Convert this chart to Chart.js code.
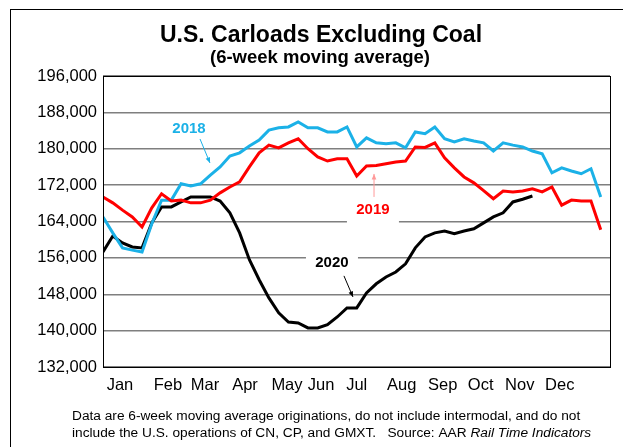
<!DOCTYPE html>
<html>
<head>
<meta charset="utf-8">
<title>U.S. Carloads Excluding Coal</title>
<script src="https://cdn.jsdelivr.net/npm/chart.js@4"></script>
<style>
  html, body { margin: 0; padding: 0; background: #fff; }
  #wrap { width: 623px; height: 447px; position: relative; }
</style>
</head>
<body>
<div id="wrap"><canvas id="carloadsChart"></canvas></div>
<script>
// 주간 데이터 (6주 이동평균, 주 번호 0..51)
const carloads2018 = [
  165000, 161500, 158200, 157700, 157300, 163500, 168700, 168700, 172300, 171800,
  172300, 174200, 176000, 178400, 179100, 180600, 181900, 184100, 184600, 184800,
  185900, 184600, 184600, 183700, 183700, 184800, 180400, 182400, 181300, 181100,
  181300, 180200, 183700, 183300, 184800, 182200, 181500, 182200, 181700, 181300,
  179500, 181300, 180800, 180400, 179500, 178900, 174700, 175800, 175100, 174500,
  175600, 169400
];
const carloads2019 = [
  169400, 168100, 166500, 165000, 162800, 167000, 170100, 168500, 168700, 168100,
  168100, 168700, 170300, 171600, 172700, 176000, 179100, 180800, 180200, 181300,
  182200, 180000, 178200, 177300, 177800, 177800, 174000, 176200, 176300, 176700,
  177100, 177300, 180400, 180300, 181300, 178000, 175800, 173800, 172500, 170800,
  169000, 170700, 170500, 170700, 171200, 170500, 171600, 167600, 168700, 168500,
  168500, 162200
];
const carloads2020 = [
  157300, 160800, 159300, 158400, 158200, 163700, 167200, 167200, 168300, 169400,
  169400, 169400, 168500, 165900, 161500, 155600, 151200, 147200, 143900, 141900,
  141700, 140600, 140600, 141300, 143000, 145000, 145000, 148300, 150300, 151800,
  152900, 154700, 158200, 160600, 161500, 161900, 161300, 161900, 162400, 163700,
  165000, 165900, 168300, 168900, 169600
];

// 월 라벨과 라벨이 놓이는 주 위치
const monthLabels = ['Jan', 'Feb', 'Mar', 'Apr', 'May', 'Jun', 'Jul', 'Aug', 'Sep', 'Oct', 'Nov', 'Dec'];
const monthWeeks = [1.74, 6.66, 10.45, 14.55, 18.85, 22.34, 26.0, 30.6, 34.8, 38.7, 42.7, 46.8];

// y축 눈금
const yMin = 132000;
const yMax = 196000;
const yStep = 8000;

const FONT = '"Liberation Sans", Arial, sans-serif';
const BLUE = '#1BB1E7';
const RED = '#FF0000';

const toPoints = arr => arr.map((v, i) => ({ x: i, y: v }));

// 시리즈 라벨 (데이터 좌표 기준)
const seriesNotes = [
  { text: '2018', color: BLUE, x: 8.81, y: 184350, arrow: [9.94, 182150, 10.96, 176880], arrowColor: BLUE, box: false },
  { text: '2019', color: RED, x: 27.66, y: 166550, arrow: [27.77, 169400, 27.77, 174460], arrowColor: '#FF9999', box: true },
  { text: '2020', color: '#000', x: 23.46, y: 154900, arrow: [24.69, 152040, 25.61, 147420], arrowColor: '#000', box: true }
];

function drawArrow(ctx, x1, y1, x2, y2, color) {
  const ang = Math.atan2(y2 - y1, x2 - x1);
  ctx.save();
  ctx.strokeStyle = color;
  ctx.fillStyle = color;
  ctx.lineWidth = 1;
  ctx.beginPath();
  ctx.moveTo(x1, y1);
  ctx.lineTo(x2, y2);
  ctx.stroke();
  ctx.beginPath();
  ctx.moveTo(x2, y2);
  ctx.lineTo(x2 - 6 * Math.cos(ang - 0.4), y2 - 6 * Math.sin(ang - 0.4));
  ctx.lineTo(x2 - 6 * Math.cos(ang + 0.4), y2 - 6 * Math.sin(ang + 0.4));
  ctx.closePath();
  ctx.fill();
  ctx.restore();
}

const decorPlugin = {
  id: 'decor',
  beforeDatasetsDraw(chart) {
    const { ctx, scales } = chart;
    // 라벨 뒤 흰 박스 (격자선 가림)
    seriesNotes.forEach(n => {
      if (!n.box) return;
      const cx = scales.x.getPixelForValue(n.x);
      const cy = scales.y.getPixelForValue(n.y);
      ctx.save();
      ctx.fillStyle = '#fff';
      ctx.fillRect(cx - 26, cy - 12, 52, 26);
      ctx.restore();
    });
  },
  afterDatasetsDraw(chart) {
    const { ctx, scales, chartArea } = chart;

    seriesNotes.forEach(n => {
      const cx = scales.x.getPixelForValue(n.x);
      const cy = scales.y.getPixelForValue(n.y);
      ctx.save();
      ctx.font = 'bold 15px ' + FONT;
      ctx.fillStyle = n.color;
      ctx.textAlign = 'center';
      ctx.textBaseline = 'middle';
      ctx.fillText(n.text, cx, cy);
      ctx.restore();
      const a = n.arrow;
      drawArrow(ctx,
        scales.x.getPixelForValue(a[0]), scales.y.getPixelForValue(a[1]),
        scales.x.getPixelForValue(a[2]), scales.y.getPixelForValue(a[3]),
        n.arrowColor);
    });

    ctx.save();
    // 플롯 테두리
    ctx.strokeStyle = '#000';
    ctx.lineWidth = 1;
    ctx.strokeRect(Math.round(chartArea.left) + 0.5, Math.round(chartArea.top) + 0.5,
      Math.round(chartArea.right - chartArea.left), Math.round(chartArea.bottom - chartArea.top));

    // 바깥 프레임
    ctx.strokeRect(10.5, 9.5, 800, 600);

    // 제목
    ctx.fillStyle = '#000';
    ctx.textAlign = 'center';
    ctx.textBaseline = 'alphabetic';
    ctx.font = 'bold 23px ' + FONT;
    ctx.fillText('U.S. Carloads Excluding Coal', 321, 42);
    ctx.font = 'bold 18.5px ' + FONT;
    ctx.fillText('(6-week moving average)', 320, 63);

    // 각주
    ctx.textAlign = 'left';
    ctx.font = '13.7px ' + FONT;
    ctx.fillText('Data are 6-week moving average originations, do not include intermodal, and do not', 72, 420);
    const line2 = 'include the U.S. operations of CN, CP, and GMXT.   Source: AAR ';
    ctx.fillText(line2, 72, 437);
    const w = ctx.measureText(line2).width;
    ctx.font = 'italic 13.7px ' + FONT;
    ctx.fillText('Rail Time Indicators', 72 + w, 437);
    ctx.restore();
  }
};

const ctx = document.getElementById('carloadsChart').getContext('2d');

new Chart(ctx, {
  type: 'line',
  data: {
    datasets: [
      { label: '2019', data: toPoints(carloads2019), borderColor: RED },
      { label: '2018', data: toPoints(carloads2018), borderColor: BLUE },
      { label: '2020', data: toPoints(carloads2020), borderColor: '#000' }
    ]
  },
  options: {
    responsive: true,
    maintainAspectRatio: false,
    animation: false,
    devicePixelRatio: 1,
    layout: { padding: { top: 76, left: 10, right: 13, bottom: 50 } },
    elements: {
      line: { borderWidth: 3, tension: 0, fill: false },
      point: { radius: 0 }
    },
    scales: {
      x: {
        type: 'linear',
        min: 0,
        max: 51.95,
        afterFit: scale => { scale.height = 30; },
        afterBuildTicks: axis => { axis.ticks = monthWeeks.map(v => ({ value: v })); },
        grid: { display: false, drawTicks: false },
        border: { display: false },
        ticks: {
          autoSkip: false,
          maxRotation: 0,
          padding: 9,
          color: '#000',
          font: { family: FONT, size: 16.5 },
          callback: (v, i) => monthLabels[i]
        }
      },
      y: {
        min: yMin,
        max: yMax,
        afterFit: scale => { scale.width = 93; },
        grid: { color: '#7f7f7f', lineWidth: 1.5, drawTicks: false },
        border: { display: false },
        ticks: {
          stepSize: yStep,
          padding: 6,
          color: '#000',
          font: { family: FONT, size: 16.5 },
          callback: v => v.toLocaleString('en-US')
        }
      }
    },
    plugins: {
      legend: { display: false },
      tooltip: { enabled: false }
    }
  },
  plugins: [decorPlugin]
});
</script>
</body>
</html>
